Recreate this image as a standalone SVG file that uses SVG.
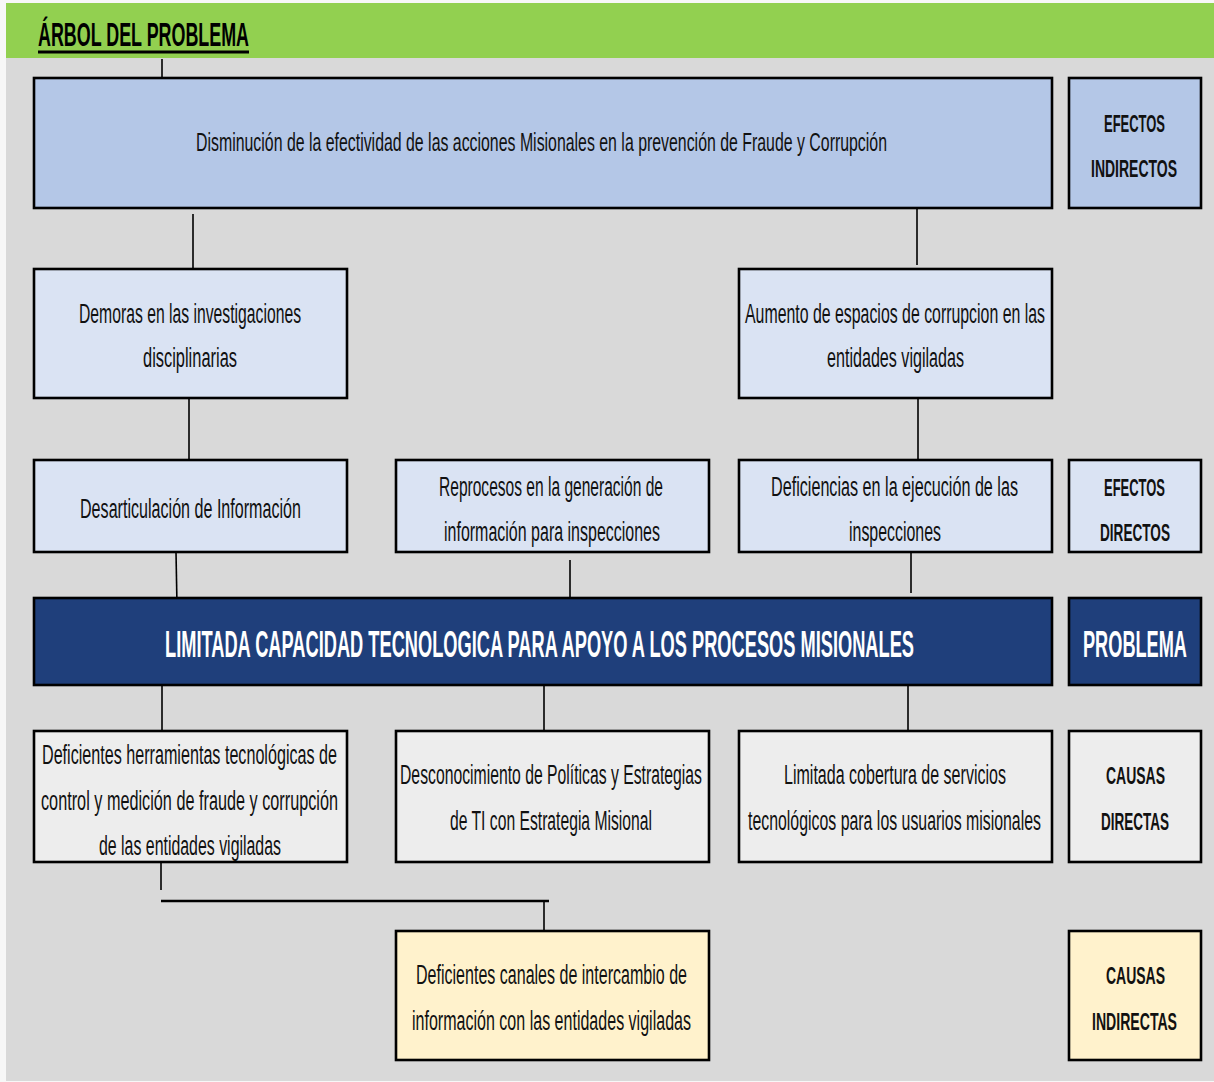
<svg xmlns="http://www.w3.org/2000/svg" width="1214" height="1082" viewBox="0 0 1214 1082">
<style>
.box{stroke:#000;stroke-width:2.6}
.l1{fill:#B4C7E7}
.l2{fill:#DAE3F3}
.pb{fill:#1F3F7B}
.c1{fill:#EDEDED}
.c2{fill:#FFF2CC}
text{font-family:"Liberation Sans",Arial,sans-serif;text-anchor:middle;fill:#111}
.t{font-size:27px}
.tt{font-size:25px}
.h{font-size:24px;font-weight:bold}
.w{fill:#fff;font-weight:bold;font-size:36px}
.conn line{stroke:#000;stroke-width:1.6}
</style>
<rect x="0" y="0" width="1214" height="1082" fill="#F7F7F7"/>
<rect x="6" y="58" width="1208" height="1023" fill="#D9D9D9"/>
<rect x="6" y="3" width="1208" height="55" fill="#92D050"/>
<g id="title">
<text x="143.5" y="46" style="font-size:34px;font-weight:bold;fill:#000" textLength="211" lengthAdjust="spacingAndGlyphs">ÁRBOL DEL PROBLEMA</text>
<rect x="38" y="50.5" width="211" height="3" fill="#000"/>
</g>
<g class="conn" id="connectors">
<line x1="162" y1="59" x2="162" y2="80"/>
<line x1="193" y1="214" x2="193" y2="268"/>
<line x1="917" y1="204" x2="917" y2="265"/>
<line x1="189" y1="398" x2="189" y2="460"/>
<line x1="918" y1="398" x2="918" y2="460"/>
<line x1="176" y1="552" x2="177" y2="606"/>
<line x1="570" y1="560" x2="570" y2="598"/>
<line x1="911" y1="552" x2="911" y2="593"/>
<line x1="162" y1="685" x2="162" y2="731"/>
<line x1="544" y1="685" x2="544" y2="731"/>
<line x1="908" y1="685" x2="908" y2="731"/>
<line x1="161" y1="862" x2="161" y2="890"/>
<line x1="161" y1="901" x2="549" y2="901" style="stroke-width:2.6"/>
<line x1="544" y1="901" x2="544" y2="931"/>
</g>
<g id="n-top">
<rect class="box l1" x="34" y="78" width="1018" height="130"/>
<text class="tt" x="541.5" y="151" textLength="691" lengthAdjust="spacingAndGlyphs">Disminución de la efectividad de las acciones Misionales en la prevención de Fraude y Corrupción</text>
</g>
<g id="n-efectos-indirectos">
<rect class="box l1" x="1069" y="78" width="132" height="130"/>
<text class="h" x="1134.5" y="132" textLength="61" lengthAdjust="spacingAndGlyphs">EFECTOS</text>
<text class="h" x="1134" y="177" textLength="86" lengthAdjust="spacingAndGlyphs">INDIRECTOS</text>
</g>
<g id="n-demoras">
<rect class="box l2" x="34" y="269" width="313" height="129"/>
<text class="t" x="190" y="323" textLength="222" lengthAdjust="spacingAndGlyphs">Demoras en las investigaciones</text>
<text class="t" x="190" y="367" textLength="94" lengthAdjust="spacingAndGlyphs">disciplinarias</text>
</g>
<g id="n-aumento">
<rect class="box l2" x="739" y="269" width="313" height="129"/>
<text class="t" x="895" y="323" textLength="300" lengthAdjust="spacingAndGlyphs">Aumento de espacios de corrupcion en las</text>
<text class="t" x="895.5" y="367" textLength="137" lengthAdjust="spacingAndGlyphs">entidades vigiladas</text>
</g>
<g id="n-desarticulacion">
<rect class="box l2" x="34" y="460" width="313" height="92"/>
<text class="t" x="190.5" y="518" textLength="221" lengthAdjust="spacingAndGlyphs">Desarticulación de Información</text>
</g>
<g id="n-reprocesos">
<rect class="box l2" x="396" y="460" width="313" height="92"/>
<text class="t" x="551" y="496" textLength="224" lengthAdjust="spacingAndGlyphs">Reprocesos en la generación de</text>
<text class="t" x="552" y="541" textLength="216" lengthAdjust="spacingAndGlyphs">información para inspecciones</text>
</g>
<g id="n-deficiencias">
<rect class="box l2" x="739" y="460" width="313" height="92"/>
<text class="t" x="894.5" y="496" textLength="247" lengthAdjust="spacingAndGlyphs">Deficiencias en la  ejecución de las</text>
<text class="t" x="895" y="541" textLength="92" lengthAdjust="spacingAndGlyphs">inspecciones</text>
</g>
<g id="n-efectos-directos">
<rect class="box l2" x="1069" y="460" width="132" height="92"/>
<text class="h" x="1134.5" y="496" textLength="61" lengthAdjust="spacingAndGlyphs">EFECTOS</text>
<text class="h" x="1135" y="541" textLength="70" lengthAdjust="spacingAndGlyphs">DIRECTOS</text>
</g>
<g id="n-problema-central">
<rect class="box pb" x="34" y="598" width="1018" height="87"/>
<text class="w" x="539.5" y="657" textLength="749" lengthAdjust="spacingAndGlyphs">LIMITADA CAPACIDAD TECNOLOGICA PARA APOYO A LOS PROCESOS MISIONALES</text>
</g>
<g id="n-problema-label">
<rect class="box pb" x="1069" y="598" width="132" height="87"/>
<text class="w" x="1135" y="657" textLength="104" lengthAdjust="spacingAndGlyphs">PROBLEMA</text>
</g>
<g id="n-herramientas">
<rect class="box c1" x="34" y="731" width="313" height="131"/>
<text class="t" x="189.5" y="764" textLength="295" lengthAdjust="spacingAndGlyphs">Deficientes herramientas tecnológicas de</text>
<text class="t" x="189.5" y="810" textLength="297" lengthAdjust="spacingAndGlyphs">control y medición de fraude y corrupción</text>
<text class="t" x="190" y="855" textLength="182" lengthAdjust="spacingAndGlyphs">de las entidades vigiladas</text>
</g>
<g id="n-desconocimiento">
<rect class="box c1" x="396" y="731" width="313" height="131"/>
<text class="t" x="551" y="784" textLength="302" lengthAdjust="spacingAndGlyphs">Desconocimiento de Políticas y Estrategias</text>
<text class="t" x="551" y="830" textLength="202" lengthAdjust="spacingAndGlyphs">de TI con Estrategia Misional</text>
</g>
<g id="n-cobertura">
<rect class="box c1" x="739" y="731" width="313" height="131"/>
<text class="t" x="895" y="784" textLength="222" lengthAdjust="spacingAndGlyphs">Limitada cobertura de servicios</text>
<text class="t" x="894.5" y="830" textLength="293" lengthAdjust="spacingAndGlyphs">tecnológicos para los usuarios misionales</text>
</g>
<g id="n-causas-directas">
<rect class="box c1" x="1069" y="731" width="132" height="131"/>
<text class="h" x="1135.5" y="784" textLength="59" lengthAdjust="spacingAndGlyphs">CAUSAS</text>
<text class="h" x="1135" y="830" textLength="68" lengthAdjust="spacingAndGlyphs">DIRECTAS</text>
</g>
<g id="n-canales">
<rect class="box c2" x="396" y="931" width="313" height="129"/>
<text class="t" x="551.5" y="984" textLength="271" lengthAdjust="spacingAndGlyphs">Deficientes canales de intercambio de</text>
<text class="t" x="551.5" y="1030" textLength="279" lengthAdjust="spacingAndGlyphs">información con las entidades vigiladas</text>
</g>
<g id="n-causas-indirectas">
<rect class="box c2" x="1069" y="931" width="132" height="129"/>
<text class="h" x="1135.5" y="984" textLength="59" lengthAdjust="spacingAndGlyphs">CAUSAS</text>
<text class="h" x="1134.5" y="1030" textLength="85" lengthAdjust="spacingAndGlyphs">INDIRECTAS</text>
</g>
</svg>
